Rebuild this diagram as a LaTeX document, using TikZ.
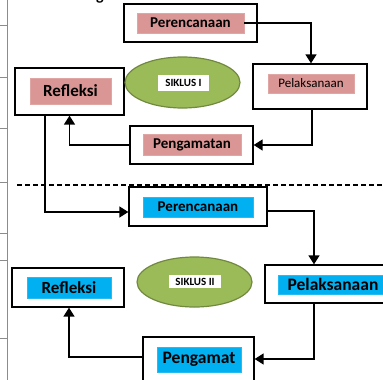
\documentclass[tikz,border=0pt]{standalone}
\usepackage{fontspec}
\setmainfont{Carlito}
\usepackage{tikz}
\usetikzlibrary{arrows.meta}
\usetikzlibrary{shapes.geometric}

\definecolor{LabelPink}{HTML}{D99694}
\definecolor{LabelBlue}{HTML}{00B0F0}
\definecolor{SiklusGreen}{HTML}{9BBB59}
\definecolor{SiklusEdge}{HTML}{71893F}
\definecolor{MarginGray}{HTML}{8C8C8C}

\newcommand{\fsz}[1]{\fontsize{#1}{#1}\selectfont}

\tikzset{
	stagebox/.style={draw=black, line width=1.3pt, fill=white, inner sep=0pt},
	pinklabel/.style={fill=LabelPink, draw=LabelPink!85!white, line width=0.4pt, inner sep=0pt},
	bluelabel/.style={fill=LabelBlue, draw=LabelBlue!85!white, line width=0.4pt, inner sep=0pt},
	siklus/.style={ellipse, draw=SiklusEdge, line width=1.2pt, fill=SiklusGreen, inner sep=0pt},
	siklustag/.style={fill=white, inner sep=0pt, font=\bfseries\fsz{11}},
	flow/.style={line width=1.5pt, -{Triangle[width=11pt,length=9pt]}},
	margin/.style={draw=MarginGray, line width=1pt},
}

\begin{document}
\begin{tikzpicture}[x=1pt, y=-1pt]
	\useasboundingbox (0,0) rectangle (383,380);

	% ---------------------
	% Page margin
	\draw[margin] (7,0) -- (7,380);
	\foreach \ty in {25,77,128,182,233,260,338}
		\draw[margin] (0,\ty) -- (7,\ty);
	\node[anchor=base, inner sep=0pt, font=\bfseries\fsz{16}] (CaptionCut) at (100,0) {g};

	% ---------------------
	% Siklus I
	\node[stagebox, minimum width=133pt, minimum height=38pt] (Perencanaan1) at (190.5,23) {};
	\node[pinklabel, minimum width=107pt, minimum height=20pt, font=\bfseries\fsz{15}] (Perencanaan1Label) at (190.5,23) {Perencanaan};

	\node[stagebox, minimum width=114pt, minimum height=45pt] (Pelaksanaan1) at (310,86.5) {};
	\node[pinklabel, minimum width=86pt, minimum height=19pt, font=\fsz{13}] (Pelaksanaan1Label) at (311,83.5) {Pelaksanaan};

	\node[stagebox, minimum width=123pt, minimum height=38pt] (Pengamatan1) at (191.5,145) {};
	\node[pinklabel, minimum width=98pt, minimum height=21pt, font=\bfseries\fsz{15}] (Pengamatan1Label) at (192,144.5) {Pengamatan};

	\node[stagebox, minimum width=109pt, minimum height=47pt] (Refleksi1) at (69.5,91.5) {};
	\node[pinklabel, minimum width=81pt, minimum height=26pt, font=\bfseries\fsz{17}] (Refleksi1Label) at (70.5,91) {Refleksi};

	\node[siklus, minimum width=115pt, minimum height=51pt] (Siklus1) at (182.5,82.5) {};
	\node[siklustag, minimum width=51pt, minimum height=16pt] (Siklus1Tag) at (183.5,83) {SIKLUS I};

	\draw[flow] (Perencanaan1Label.east) -| ([xshift=1pt]Pelaksanaan1.north);
	\draw[flow] ([xshift=2pt]Pelaksanaan1.south) |- (Pengamatan1.east);
	\draw[flow] (Pengamatan1.west) -| (Refleksi1.south);

	% ---------------------
	% Batas siklus
	\draw[line width=1.2pt, dash pattern=on 5pt off 3pt] (17,185) coordinate (DashStart) -- (383,185) coordinate (DashEnd);

	% ---------------------
	% Siklus II
	\node[stagebox, minimum width=138pt, minimum height=39pt] (Perencanaan2) at (198,206.5) {};
	\node[bluelabel, minimum width=110pt, minimum height=20pt, font=\bfseries\fsz{15}] (Perencanaan2Label) at (198,207) {Perencanaan};

	\node[stagebox, minimum width=127pt, minimum height=38pt] (Pelaksanaan2) at (328.5,284) {};
	\node[bluelabel, minimum width=110pt, minimum height=19pt, font=\bfseries\fsz{17.5}] (Pelaksanaan2Label) at (333,284.5) {Pelaksanaan};

	\node[stagebox, minimum width=111pt, minimum height=46pt] (Pengamat2) at (198.5,360) {};
	\node[bluelabel, minimum width=84pt, minimum height=25pt, font=\bfseries\fsz{17.5}] (Pengamat2Label) at (199,359.5) {Pengamat};

	\node[stagebox, minimum width=112pt, minimum height=39pt] (Refleksi2) at (68,287.5) {};
	\node[bluelabel, minimum width=84pt, minimum height=21pt, font=\bfseries\fsz{17}] (Refleksi2Label) at (69,287.5) {Refleksi};

	\node[siklus, minimum width=115pt, minimum height=50pt] (Siklus2) at (194.5,282) {};
	\node[siklustag, minimum width=52pt, minimum height=13pt] (Siklus2Tag) at (195,281.5) {SIKLUS II};

	\draw[flow] ([xshift=-24.5pt]Refleksi1.south) |- ([yshift=-5.5pt]Perencanaan2.west);
	\draw[flow] ([yshift=-4.5pt]Perencanaan2.east) -| ([xshift=-14.5pt]Pelaksanaan2.north);
	\draw[flow] ([xshift=-14.5pt]Pelaksanaan2.south) |- ([yshift=1pt]Pengamat2.east);
	\draw[flow] ([yshift=3pt]Pengamat2.west) -| ([xshift=1pt]Refleksi2.south);

\end{tikzpicture}
\end{document}
